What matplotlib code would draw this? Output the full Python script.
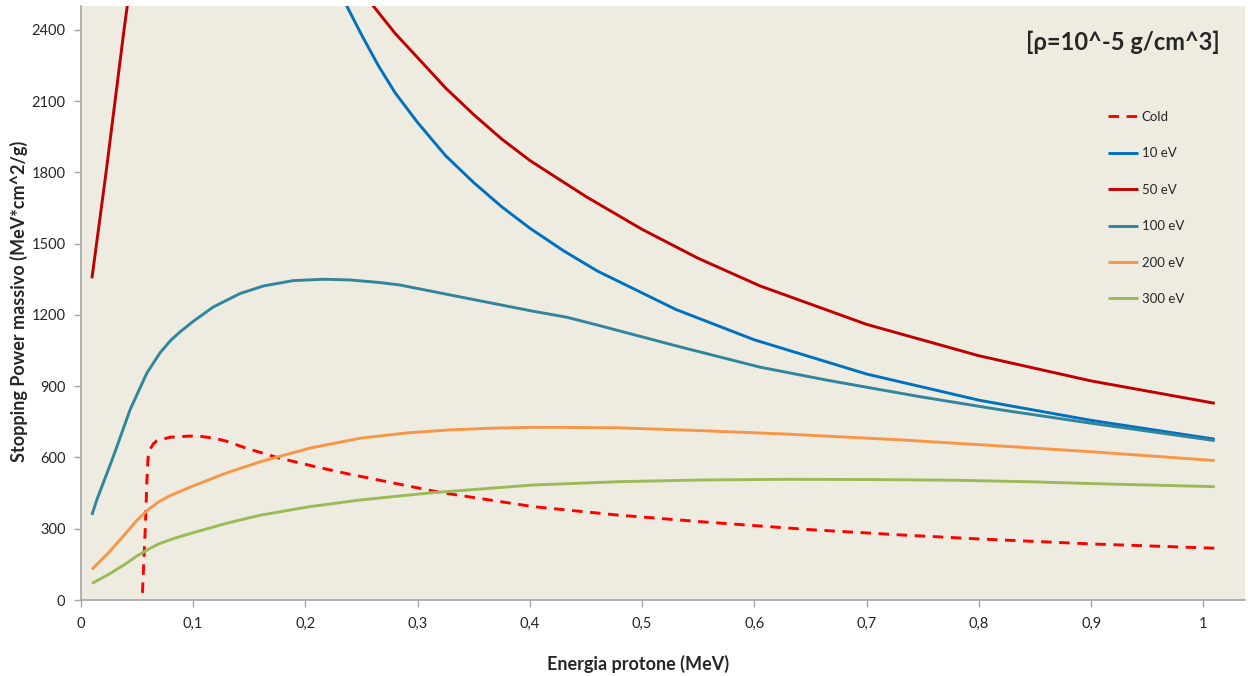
import matplotlib
matplotlib.use("Agg")
import matplotlib.pyplot as plt
from matplotlib.ticker import FuncFormatter, MultipleLocator

# ── Colours ────────────────────────────────────────────────────────────────
BG = "#EEECE1"
AXIS = "#A6A6A6"
TEXT = "#262626"
C_COLD = "#FF0000"
C_10 = "#0070C0"
C_50 = "#C00000"
C_100 = "#31859C"
C_200 = "#F79646"
C_300 = "#9BBB59"

plt.rcParams["font.family"] = ["Lato", "DejaVu Sans"]

# ── Data (energy in MeV, S in MeV*cm^2/g) ──────────────────────────────────
cold_x = [0.055, 0.0575, 0.059, 0.060, 0.0625, 0.0647, 0.0677, 0.0795, 0.0973,
          0.108, 0.12, 0.13, 0.148, 0.177, 0.21, 0.24, 0.26, 0.32, 0.403, 0.477,
          0.551, 0.65, 0.73, 0.80, 0.90, 1.01]
cold_y = [30, 300, 505, 600, 640, 657, 670, 685, 690,
          688, 680, 668, 638, 597, 560, 529, 510, 453, 393, 358,
          330, 296, 274, 257, 236, 218]

ev10_x = [0.20, 0.22, 0.237, 0.25, 0.265, 0.28, 0.30, 0.325, 0.35, 0.375,
          0.40, 0.43, 0.46, 0.53, 0.60, 0.70, 0.80, 0.90, 1.01]
ev10_y = [2950, 2690, 2500, 2380, 2250, 2135, 2010, 1870, 1757, 1655,
          1565, 1470, 1385, 1223, 1095, 951, 841, 756, 677]

ev50_x = [0.01, 0.0226, 0.0306, 0.0386, 0.05, 0.10, 0.20, 0.22, 0.2606,
          0.28, 0.30, 0.325, 0.35, 0.375, 0.40, 0.45, 0.50, 0.55, 0.605,
          0.70, 0.80, 0.90, 1.01]
ev50_y = [1354, 1800, 2100, 2400, 2800, 3600, 3050, 2760, 2500,
          2385, 2283, 2155, 2043, 1940, 1850, 1698, 1560, 1438, 1322,
          1160, 1028, 922, 828]

ev100_x = [0.01, 0.0143, 0.029, 0.0439, 0.0588, 0.0706, 0.08, 0.0884, 0.10,
           0.118, 0.142, 0.163, 0.189, 0.216, 0.24, 0.2665, 0.284, 0.344,
           0.40, 0.433, 0.462, 0.53, 0.605, 0.665, 0.747, 0.82, 0.90, 1.01]
ev100_y = [358, 421, 603, 800, 954, 1040, 1092, 1128, 1172,
           1233, 1290, 1322, 1344, 1350, 1347, 1336, 1326, 1270,
           1218, 1190, 1155, 1070, 980, 925, 856, 800, 744, 671]

ev200_x = [0.01, 0.025, 0.04, 0.05, 0.06, 0.07, 0.08, 0.10, 0.13, 0.16,
           0.204, 0.249, 0.29, 0.329, 0.365, 0.403, 0.477, 0.551, 0.63,
           0.73, 0.82, 0.90, 1.01]
ev200_y = [129, 200, 280, 335, 380, 415, 440, 480, 535, 582,
           639, 681, 703, 716, 723, 727, 725, 713, 698,
           674, 648, 624, 587]

ev300_x = [0.01, 0.025, 0.04, 0.05, 0.06, 0.07, 0.085, 0.10, 0.13, 0.16,
           0.204, 0.249, 0.314, 0.403, 0.48, 0.551, 0.63, 0.70, 0.78,
           0.85, 0.90, 1.01]
ev300_y = [70, 108, 152, 185, 213, 237, 262, 283, 323, 357,
           393, 421, 452, 484, 498, 505, 508, 507, 504,
           497, 490, 477]

series = [
    ("Cold", cold_x, cold_y, C_COLD, "--"),
    ("10 eV", ev10_x, ev10_y, C_10, "-"),
    ("50 eV", ev50_x, ev50_y, C_50, "-"),
    ("100 eV", ev100_x, ev100_y, C_100, "-"),
    ("200 eV", ev200_x, ev200_y, C_200, "-"),
    ("300 eV", ev300_x, ev300_y, C_300, "-"),
]

fig = plt.figure(figsize=(12.48, 6.76), dpi=100)
fig.patch.set_facecolor("white")
ax = fig.add_axes([80.7 / 1248, 1 - 600 / 676, (1245 - 80.7) / 1248, (600 - 6) / 676])
ax.set_facecolor(BG)

for label, xs, ys, color, ls in series:
    line, = ax.plot(xs, ys, color=color, linewidth=2.1, linestyle=ls, label=label,
                    solid_capstyle="butt", solid_joinstyle="round")
    if ls == "--":
        line.set_dashes((3.6, 2.6))

ax.set_xlim(0, 1.037)
ax.set_ylim(0, 2500)
ax.xaxis.set_major_locator(MultipleLocator(0.1))
ax.yaxis.set_major_locator(MultipleLocator(300))


def comma_fmt(v, _pos):
    s = f"{v:.1f}".rstrip("0").rstrip(".")
    return s.replace(".", ",")


ax.xaxis.set_major_formatter(FuncFormatter(comma_fmt))
ax.yaxis.set_major_formatter(FuncFormatter(lambda v, p: f"{int(round(v))}"))

for side in ["top", "right"]:
    ax.spines[side].set_visible(False)
for side in ["left", "bottom"]:
    ax.spines[side].set_color(AXIS)
    ax.spines[side].set_linewidth(1.2)
ax.tick_params(axis="both", direction="out", length=5, width=1, color=AXIS,
               labelsize=10.5, labelcolor=TEXT)
ax.tick_params(axis="x", pad=7)
ax.tick_params(axis="y", pad=6)

ax.set_xlabel("Energia protone (MeV)", fontsize=13, fontweight="bold", color=TEXT)
ax.xaxis.set_label_coords(0.4787, -0.092)
ax.set_ylabel("Stopping Power massivo (MeV*cm^2/g)", fontsize=13, fontweight="bold",
              color=TEXT)
ax.yaxis.set_label_coords(-0.0455, 0.503)

fig.text(1220 / 1248, 1 - 42 / 676, "[ρ=10^-5 g/cm^3]", fontsize=17, fontweight="bold",
         color=TEXT, ha="right", va="center")

leg = ax.legend(loc="upper left", bbox_to_anchor=(1108 / 1248, 1 - 111 / 676),
                bbox_transform=fig.transFigure, frameon=False, fontsize=9.5,
                handlelength=2.3, handletextpad=0.25, labelspacing=1.85,
                borderpad=0, borderaxespad=0)
for t in leg.get_texts():
    t.set_color(TEXT)

fig.savefig("out.png", dpi=100, facecolor=fig.get_facecolor())
